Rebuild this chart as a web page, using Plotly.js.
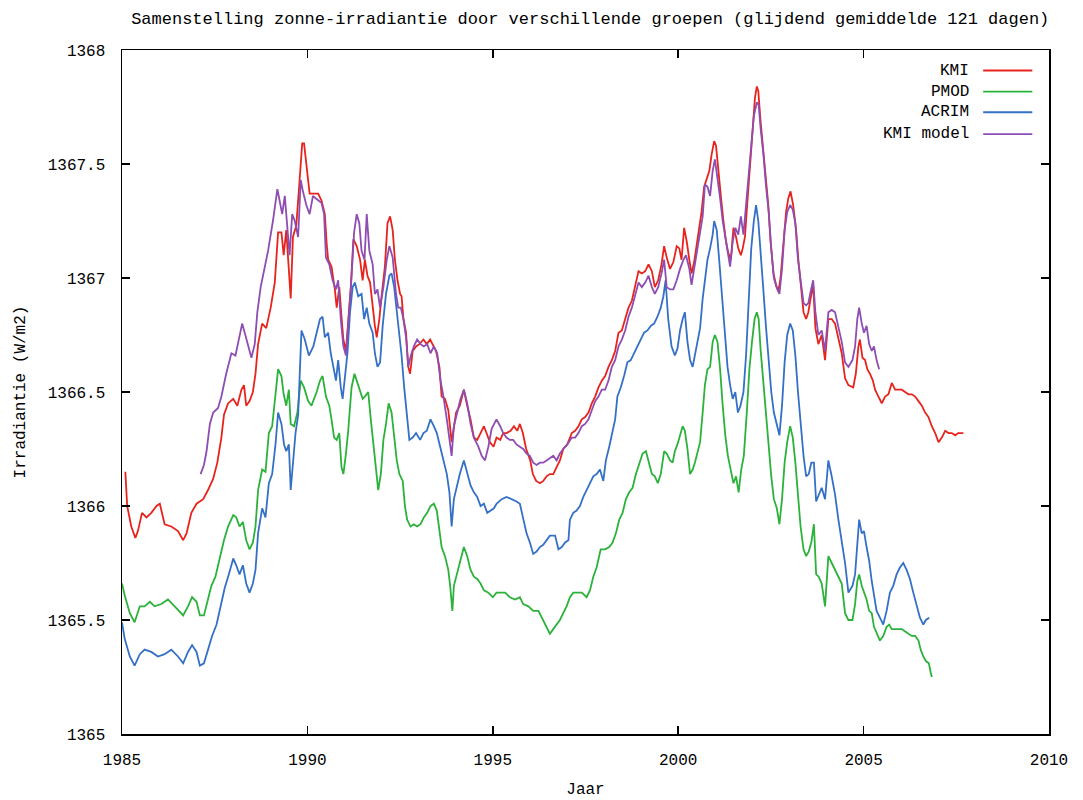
<!DOCTYPE html>
<html>
<head>
<meta charset="utf-8">
<script src="https://cdn.plot.ly/plotly-3.0.1.min.js"></script>
<style>
  html, body { margin: 0; padding: 0; background: #fff; }
  #chart { width: 1083px; height: 800px; }
</style>
</head>
<body>
<div id="chart"></div>
<script>
// ---------------- DATA ----------------
const seriesNames = ["KMI", "PMOD", "ACRIM", "KMI model"];
const xTickValues = [1985, 1990, 1995, 2000, 2005, 2010];
const yTickValues = [1365, 1365.5, 1366, 1366.5, 1367, 1367.5, 1368];

const kmiYears = [1985.09,1985.14,1985.25,1985.36,1985.43,1985.54,1985.66,1985.79,1985.93,1986.02,1986.15,1986.33,1986.51,1986.65,1986.74,1986.87,1987.01,1987.19,1987.32,1987.46,1987.57,1987.68,1987.75,1987.86,1988.00,1988.11,1988.22,1988.29,1988.35,1988.44,1988.53,1988.60,1988.67,1988.78,1988.89,1989.01,1989.12,1989.21,1989.30,1989.36,1989.43,1989.50,1989.55,1989.61,1989.70,1989.79,1989.86,1989.91,1989.97,1990.06,1990.20,1990.29,1990.38,1990.47,1990.52,1990.56,1990.65,1990.74,1990.79,1990.86,1990.92,1990.97,1991.04,1991.10,1991.17,1991.24,1991.33,1991.42,1991.49,1991.55,1991.62,1991.69,1991.76,1991.82,1991.87,1991.94,1992.00,1992.09,1992.16,1992.23,1992.30,1992.36,1992.43,1992.50,1992.54,1992.59,1992.66,1992.72,1992.77,1992.84,1992.93,1993.02,1993.13,1993.22,1993.31,1993.38,1993.47,1993.56,1993.62,1993.71,1993.80,1993.89,1993.94,1994.01,1994.11,1994.22,1994.31,1994.40,1994.49,1994.58,1994.67,1994.76,1994.83,1994.92,1995.02,1995.10,1995.20,1995.28,1995.37,1995.48,1995.57,1995.66,1995.73,1995.81,1995.90,1996.01,1996.08,1996.17,1996.27,1996.36,1996.45,1996.54,1996.63,1996.72,1996.81,1996.90,1997.01,1997.13,1997.22,1997.31,1997.40,1997.49,1997.58,1997.67,1997.76,1997.85,1997.94,1998.03,1998.12,1998.21,1998.30,1998.39,1998.48,1998.57,1998.66,1998.75,1998.84,1998.93,1999.02,1999.11,1999.20,1999.29,1999.37,1999.46,1999.55,1999.62,1999.69,1999.78,1999.87,1999.96,2000.03,2000.09,2000.16,2000.23,2000.30,2000.36,2000.43,2000.50,2000.57,2000.63,2000.70,2000.77,2000.84,2000.90,2000.97,2001.02,2001.08,2001.15,2001.22,2001.29,2001.35,2001.42,2001.49,2001.56,2001.62,2001.69,2001.74,2001.80,2001.86,2001.94,2002.01,2002.07,2002.12,2002.16,2002.22,2002.30,2002.37,2002.43,2002.49,2002.57,2002.64,2002.70,2002.76,2002.84,2002.91,2002.97,2003.03,2003.10,2003.18,2003.24,2003.30,2003.38,2003.45,2003.51,2003.57,2003.64,2003.70,2003.78,2003.87,2003.96,2004.05,2004.14,2004.23,2004.32,2004.41,2004.50,2004.59,2004.72,2004.79,2004.86,2004.90,2004.97,2005.04,2005.10,2005.17,2005.25,2005.31,2005.40,2005.49,2005.58,2005.67,2005.76,2005.85,2005.94,2006.03,2006.12,2006.21,2006.30,2006.39,2006.48,2006.57,2006.66,2006.75,2006.84,2006.93,2007.02,2007.11,2007.20,2007.29,2007.38,2007.47,2007.55,2007.69];
const kmiValues = [1366.15,1366.00,1365.91,1365.86,1365.89,1365.97,1365.95,1365.97,1366.00,1366.01,1365.92,1365.91,1365.89,1365.85,1365.88,1365.97,1366.01,1366.03,1366.07,1366.12,1366.19,1366.30,1366.40,1366.45,1366.47,1366.44,1366.51,1366.53,1366.44,1366.46,1366.50,1366.58,1366.71,1366.80,1366.78,1366.87,1366.98,1367.20,1367.20,1367.10,1367.21,1367.06,1366.91,1367.18,1367.23,1367.43,1367.59,1367.59,1367.51,1367.37,1367.37,1367.37,1367.34,1367.28,1367.15,1367.08,1367.05,1366.95,1366.87,1366.96,1366.83,1366.73,1366.68,1366.80,1366.96,1367.17,1367.14,1367.08,1366.99,1367.08,1367.01,1366.98,1366.87,1366.79,1366.74,1366.82,1366.92,1367.05,1367.24,1367.27,1367.21,1367.08,1366.99,1366.93,1366.92,1366.82,1366.76,1366.61,1366.58,1366.68,1366.70,1366.71,1366.73,1366.71,1366.73,1366.71,1366.68,1366.61,1366.48,1366.47,1366.42,1366.28,1366.33,1366.41,1366.44,1366.51,1366.44,1366.38,1366.30,1366.29,1366.32,1366.35,1366.32,1366.28,1366.26,1366.30,1366.29,1366.32,1366.32,1366.33,1366.35,1366.33,1366.36,1366.32,1366.25,1366.20,1366.14,1366.11,1366.10,1366.11,1366.13,1366.14,1366.14,1366.17,1366.20,1366.25,1366.27,1366.32,1366.33,1366.35,1366.38,1366.39,1366.41,1366.45,1366.48,1366.52,1366.55,1366.57,1366.61,1366.64,1366.68,1366.76,1366.77,1366.82,1366.87,1366.90,1366.96,1367.03,1367.02,1367.03,1367.06,1367.03,1366.96,1366.99,1367.06,1367.14,1367.09,1367.04,1367.07,1367.14,1367.13,1367.08,1367.22,1367.16,1367.08,1367.02,1367.07,1367.14,1367.22,1367.29,1367.40,1367.44,1367.47,1367.54,1367.60,1367.58,1367.46,1367.36,1367.25,1367.16,1367.11,1367.08,1367.22,1367.18,1367.13,1367.10,1367.13,1367.18,1367.32,1367.50,1367.63,1367.79,1367.84,1367.82,1367.69,1367.55,1367.41,1367.32,1367.16,1367.02,1366.97,1366.94,1367.00,1367.16,1367.29,1367.35,1367.38,1367.32,1367.21,1367.08,1366.97,1366.85,1366.82,1366.85,1366.91,1366.97,1366.78,1366.71,1366.75,1366.64,1366.82,1366.82,1366.80,1366.74,1366.67,1366.56,1366.53,1366.52,1366.58,1366.70,1366.73,1366.65,1366.64,1366.60,1366.58,1366.55,1366.51,1366.48,1366.45,1366.48,1366.49,1366.54,1366.51,1366.51,1366.51,1366.50,1366.49,1366.49,1366.48,1366.46,1366.44,1366.41,1366.39,1366.35,1366.32,1366.28,1366.30,1366.33,1366.32,1366.32,1366.31,1366.32,1366.32];

const pmodYears = [1985.00,1985.07,1985.21,1985.34,1985.48,1985.61,1985.75,1985.88,1986.06,1986.24,1986.42,1986.65,1986.78,1986.89,1987.01,1987.10,1987.21,1987.32,1987.41,1987.52,1987.63,1987.75,1987.86,1988.00,1988.08,1988.17,1988.26,1988.35,1988.44,1988.53,1988.60,1988.67,1988.78,1988.87,1988.96,1989.05,1989.14,1989.21,1989.30,1989.36,1989.43,1989.50,1989.55,1989.64,1989.73,1989.82,1989.91,1990.02,1990.11,1990.25,1990.34,1990.41,1990.50,1990.59,1990.65,1990.72,1990.79,1990.86,1990.92,1990.97,1991.04,1991.10,1991.19,1991.27,1991.33,1991.42,1991.49,1991.55,1991.64,1991.71,1991.78,1991.85,1991.91,1991.98,1992.05,1992.12,1992.19,1992.27,1992.34,1992.41,1992.48,1992.57,1992.63,1992.69,1992.78,1992.87,1992.96,1993.05,1993.14,1993.23,1993.32,1993.41,1993.49,1993.56,1993.62,1993.71,1993.80,1993.85,1993.91,1993.95,1994.03,1994.11,1994.22,1994.31,1994.40,1994.49,1994.58,1994.67,1994.76,1994.88,1995.00,1995.10,1995.20,1995.33,1995.46,1995.60,1995.73,1995.82,1995.96,1996.09,1996.23,1996.36,1996.47,1996.54,1996.63,1996.72,1996.81,1996.90,1996.99,1997.08,1997.17,1997.26,1997.40,1997.53,1997.62,1997.71,1997.80,1997.91,1998.03,1998.14,1998.23,1998.32,1998.41,1998.50,1998.59,1998.68,1998.77,1998.86,1998.95,1999.04,1999.13,1999.20,1999.29,1999.37,1999.45,1999.53,1999.62,1999.69,1999.78,1999.85,1999.91,1999.98,2000.05,2000.12,2000.18,2000.25,2000.32,2000.39,2000.45,2000.52,2000.59,2000.66,2000.72,2000.79,2000.86,2000.93,2000.99,2001.06,2001.13,2001.20,2001.27,2001.34,2001.42,2001.49,2001.56,2001.63,2001.70,2001.77,2001.85,2001.92,2001.99,2002.06,2002.12,2002.17,2002.22,2002.30,2002.37,2002.44,2002.51,2002.58,2002.66,2002.73,2002.80,2002.87,2002.94,2003.02,2003.09,2003.16,2003.23,2003.30,2003.38,2003.45,2003.52,2003.59,2003.66,2003.72,2003.79,2003.87,2003.96,2004.05,2004.14,2004.23,2004.32,2004.41,2004.50,2004.59,2004.70,2004.77,2004.83,2004.88,2004.95,2005.01,2005.08,2005.15,2005.22,2005.28,2005.35,2005.44,2005.53,2005.62,2005.69,2005.76,2005.85,2005.94,2006.03,2006.12,2006.21,2006.30,2006.39,2006.48,2006.54,2006.61,2006.68,2006.76,2006.81,2006.84];
const pmodValues = [1365.66,1365.61,1365.53,1365.49,1365.56,1365.56,1365.58,1365.56,1365.57,1365.59,1365.56,1365.52,1365.56,1365.60,1365.58,1365.52,1365.52,1365.59,1365.65,1365.69,1365.77,1365.85,1365.91,1365.96,1365.95,1365.91,1365.93,1365.85,1365.81,1365.84,1365.91,1366.07,1366.16,1366.15,1366.32,1366.35,1366.49,1366.60,1366.57,1366.49,1366.44,1366.51,1366.36,1366.35,1366.41,1366.55,1366.52,1366.46,1366.44,1366.50,1366.55,1366.57,1366.48,1366.44,1366.38,1366.30,1366.29,1366.32,1366.17,1366.14,1366.23,1366.33,1366.52,1366.58,1366.55,1366.51,1366.47,1366.48,1366.50,1366.38,1366.28,1366.16,1366.07,1366.14,1366.29,1366.36,1366.45,1366.41,1366.30,1366.20,1366.14,1366.11,1366.00,1365.94,1365.91,1365.92,1365.91,1365.92,1365.95,1365.97,1366.00,1366.01,1365.98,1365.88,1365.82,1365.78,1365.72,1365.65,1365.54,1365.65,1365.70,1365.76,1365.82,1365.78,1365.72,1365.69,1365.68,1365.66,1365.63,1365.62,1365.60,1365.62,1365.62,1365.62,1365.60,1365.59,1365.60,1365.57,1365.56,1365.54,1365.54,1365.50,1365.46,1365.44,1365.46,1365.48,1365.50,1365.53,1365.56,1365.60,1365.62,1365.62,1365.62,1365.60,1365.63,1365.69,1365.73,1365.81,1365.81,1365.82,1365.84,1365.88,1365.94,1365.97,1366.03,1366.06,1366.08,1366.14,1366.19,1366.23,1366.24,1366.20,1366.14,1366.13,1366.10,1366.14,1366.24,1366.23,1366.20,1366.19,1366.24,1366.27,1366.31,1366.35,1366.33,1366.25,1366.14,1366.16,1366.19,1366.24,1366.28,1366.41,1366.53,1366.60,1366.61,1366.72,1366.75,1366.72,1366.60,1366.44,1366.31,1366.22,1366.16,1366.10,1366.13,1366.06,1366.16,1366.22,1366.41,1366.60,1366.72,1366.82,1366.85,1366.82,1366.69,1366.53,1366.38,1366.25,1366.13,1366.03,1365.99,1365.92,1366.03,1366.19,1366.28,1366.35,1366.30,1366.19,1366.03,1365.91,1365.81,1365.78,1365.80,1365.84,1365.92,1365.70,1365.69,1365.66,1365.56,1365.78,1365.75,1365.72,1365.69,1365.66,1365.53,1365.50,1365.50,1365.57,1365.67,1365.70,1365.65,1365.62,1365.59,1365.54,1365.53,1365.47,1365.44,1365.41,1365.43,1365.47,1365.48,1365.46,1365.46,1365.46,1365.46,1365.45,1365.44,1365.43,1365.43,1365.41,1365.37,1365.34,1365.32,1365.31,1365.27,1365.25];

const acrimYears = [1985.00,1985.07,1985.21,1985.34,1985.48,1985.61,1985.79,1985.97,1986.15,1986.33,1986.51,1986.65,1986.78,1986.89,1987.01,1987.10,1987.21,1987.32,1987.43,1987.55,1987.66,1987.77,1987.88,1988.00,1988.08,1988.17,1988.26,1988.35,1988.44,1988.53,1988.60,1988.67,1988.78,1988.87,1988.96,1989.05,1989.14,1989.21,1989.30,1989.37,1989.43,1989.50,1989.55,1989.61,1989.68,1989.75,1989.84,1989.93,1990.04,1990.16,1990.25,1990.34,1990.41,1990.47,1990.56,1990.63,1990.70,1990.77,1990.83,1990.90,1990.95,1991.01,1991.08,1991.15,1991.22,1991.28,1991.37,1991.46,1991.53,1991.60,1991.67,1991.76,1991.82,1991.89,1991.96,1992.03,1992.12,1992.21,1992.27,1992.34,1992.41,1992.48,1992.54,1992.61,1992.68,1992.75,1992.84,1992.93,1993.04,1993.13,1993.22,1993.32,1993.41,1993.49,1993.58,1993.67,1993.76,1993.83,1993.89,1993.95,1994.03,1994.11,1994.22,1994.31,1994.40,1994.49,1994.58,1994.67,1994.76,1994.85,1994.94,1995.03,1995.10,1995.24,1995.37,1995.51,1995.64,1995.73,1995.82,1995.91,1996.00,1996.09,1996.18,1996.27,1996.36,1996.45,1996.54,1996.68,1996.77,1996.86,1996.95,1997.04,1997.08,1997.17,1997.26,1997.35,1997.44,1997.53,1997.62,1997.71,1997.80,1997.89,1997.98,1998.05,1998.14,1998.23,1998.30,1998.36,1998.45,1998.54,1998.63,1998.72,1998.81,1998.90,1998.99,1999.08,1999.17,1999.26,1999.35,1999.44,1999.53,1999.60,1999.66,1999.73,1999.82,1999.91,1999.98,2000.05,2000.12,2000.18,2000.25,2000.32,2000.39,2000.45,2000.52,2000.59,2000.66,2000.72,2000.79,2000.86,2000.93,2000.97,2001.04,2001.11,2001.18,2001.25,2001.33,2001.40,2001.47,2001.54,2001.61,2001.68,2001.76,2001.83,2001.90,2001.97,2002.04,2002.10,2002.16,2002.22,2002.30,2002.37,2002.44,2002.51,2002.58,2002.66,2002.73,2002.80,2002.87,2002.94,2003.02,2003.09,2003.16,2003.23,2003.30,2003.38,2003.45,2003.52,2003.59,2003.66,2003.72,2003.79,2003.87,2003.96,2004.05,2004.14,2004.23,2004.32,2004.41,2004.50,2004.59,2004.70,2004.77,2004.83,2004.88,2004.95,2005.01,2005.08,2005.15,2005.22,2005.28,2005.35,2005.44,2005.53,2005.62,2005.71,2005.80,2005.89,2005.98,2006.07,2006.16,2006.25,2006.34,2006.43,2006.52,2006.61,2006.68,2006.77];
const acrimValues = [1365.49,1365.42,1365.34,1365.30,1365.35,1365.37,1365.36,1365.34,1365.35,1365.37,1365.34,1365.31,1365.36,1365.39,1365.36,1365.30,1365.31,1365.37,1365.43,1365.48,1365.56,1365.64,1365.70,1365.77,1365.74,1365.70,1365.74,1365.66,1365.62,1365.66,1365.72,1365.88,1365.99,1365.95,1366.10,1366.14,1366.27,1366.41,1366.36,1366.27,1366.24,1366.27,1366.07,1366.19,1366.32,1366.40,1366.77,1366.73,1366.66,1366.70,1366.76,1366.82,1366.83,1366.74,1366.76,1366.67,1366.61,1366.55,1366.64,1366.52,1366.47,1366.55,1366.67,1366.85,1366.96,1366.98,1366.92,1366.93,1366.82,1366.87,1366.80,1366.76,1366.67,1366.61,1366.63,1366.79,1366.93,1367.01,1367.02,1366.96,1366.85,1366.76,1366.66,1366.52,1366.41,1366.29,1366.30,1366.32,1366.29,1366.32,1366.33,1366.38,1366.35,1366.32,1366.26,1366.20,1366.14,1366.06,1365.91,1366.03,1366.09,1366.14,1366.20,1366.14,1366.09,1366.06,1366.04,1366.00,1366.01,1365.97,1365.98,1365.99,1366.01,1366.03,1366.04,1366.03,1366.02,1366.01,1365.94,1365.88,1365.84,1365.79,1365.80,1365.82,1365.83,1365.85,1365.87,1365.87,1365.81,1365.82,1365.84,1365.85,1365.94,1365.97,1365.98,1366.00,1366.04,1366.07,1366.10,1366.13,1366.14,1366.16,1366.11,1366.20,1366.26,1366.32,1366.38,1366.48,1366.52,1366.57,1366.63,1366.64,1366.67,1366.70,1366.73,1366.76,1366.77,1366.79,1366.80,1366.83,1366.87,1366.92,1366.99,1366.82,1366.70,1366.66,1366.69,1366.77,1366.82,1366.85,1366.72,1366.64,1366.61,1366.66,1366.71,1366.78,1366.91,1367.00,1367.08,1367.13,1367.19,1367.25,1367.21,1367.07,1366.91,1366.75,1366.61,1366.53,1366.47,1366.50,1366.41,1366.44,1366.50,1366.66,1366.91,1367.13,1367.25,1367.32,1367.25,1367.10,1366.94,1366.78,1366.63,1366.50,1366.41,1366.35,1366.31,1366.44,1366.63,1366.75,1366.80,1366.77,1366.66,1366.50,1366.35,1366.22,1366.13,1366.14,1366.19,1366.19,1366.02,1366.05,1366.08,1366.03,1366.20,1366.13,1366.05,1365.94,1365.84,1365.75,1365.62,1365.65,1365.70,1365.85,1365.94,1365.88,1365.89,1365.82,1365.76,1365.67,1365.60,1365.54,1365.51,1365.48,1365.54,1365.62,1365.65,1365.70,1365.73,1365.75,1365.72,1365.68,1365.62,1365.56,1365.51,1365.48,1365.50,1365.51];

const modelYears = [1987.12,1987.21,1987.28,1987.37,1987.46,1987.59,1987.68,1987.81,1987.95,1988.06,1988.15,1988.24,1988.31,1988.40,1988.49,1988.58,1988.65,1988.74,1988.83,1988.94,1989.07,1989.19,1989.25,1989.32,1989.39,1989.46,1989.52,1989.59,1989.66,1989.75,1989.82,1989.88,1989.97,1990.06,1990.15,1990.22,1990.29,1990.38,1990.45,1990.50,1990.59,1990.68,1990.77,1990.83,1990.90,1990.97,1991.04,1991.10,1991.17,1991.26,1991.33,1991.40,1991.46,1991.54,1991.60,1991.67,1991.76,1991.82,1991.89,1991.96,1992.05,1992.14,1992.21,1992.30,1992.39,1992.45,1992.52,1992.59,1992.66,1992.72,1992.79,1992.87,1992.96,1993.05,1993.14,1993.23,1993.32,1993.41,1993.50,1993.59,1993.67,1993.76,1993.85,1993.89,1993.95,1994.04,1994.13,1994.22,1994.31,1994.40,1994.49,1994.61,1994.70,1994.79,1994.88,1994.97,1995.10,1995.20,1995.28,1995.37,1995.46,1995.55,1995.64,1995.73,1995.82,1995.91,1996.00,1996.09,1996.18,1996.27,1996.36,1996.45,1996.54,1996.63,1996.72,1996.81,1996.90,1997.01,1997.13,1997.22,1997.31,1997.40,1997.49,1997.58,1997.67,1997.76,1997.85,1997.94,1998.03,1998.12,1998.21,1998.30,1998.39,1998.48,1998.57,1998.66,1998.75,1998.84,1998.93,1999.02,1999.11,1999.20,1999.29,1999.37,1999.46,1999.55,1999.62,1999.69,1999.78,1999.87,1999.96,2000.05,2000.14,2000.21,2000.30,2000.36,2000.43,2000.50,2000.59,2000.66,2000.72,2000.79,2000.86,2000.93,2000.99,2001.06,2001.13,2001.20,2001.26,2001.33,2001.40,2001.47,2001.54,2001.62,2001.69,2001.76,2001.83,2001.90,2001.97,2002.04,2002.12,2002.17,2002.22,2002.30,2002.37,2002.44,2002.51,2002.58,2002.65,2002.73,2002.80,2002.87,2002.94,2003.02,2003.09,2003.16,2003.23,2003.30,2003.38,2003.45,2003.51,2003.57,2003.64,2003.70,2003.78,2003.87,2003.96,2004.05,2004.14,2004.23,2004.32,2004.41,2004.50,2004.59,2004.70,2004.77,2004.83,2004.88,2004.95,2005.01,2005.08,2005.15,2005.22,2005.28,2005.35,2005.42];
const modelValues = [1366.14,1366.18,1366.24,1366.36,1366.41,1366.43,1366.48,1366.58,1366.67,1366.66,1366.73,1366.80,1366.76,1366.70,1366.65,1366.71,1366.85,1366.96,1367.03,1367.12,1367.25,1367.39,1367.34,1367.28,1367.36,1367.21,1367.10,1367.28,1367.25,1367.18,1367.43,1367.38,1367.32,1367.28,1367.36,1367.35,1367.34,1367.33,1367.28,1367.09,1367.06,1366.99,1366.95,1366.99,1366.82,1366.70,1366.66,1366.79,1366.95,1367.20,1367.28,1367.24,1367.12,1367.08,1367.28,1367.12,1367.06,1366.93,1366.95,1366.87,1366.96,1367.08,1367.14,1367.09,1366.93,1366.87,1366.87,1366.82,1366.74,1366.61,1366.66,1366.70,1366.73,1366.71,1366.70,1366.71,1366.67,1366.70,1366.67,1366.55,1366.48,1366.38,1366.26,1366.22,1366.35,1366.41,1366.47,1366.51,1366.45,1366.36,1366.30,1366.26,1366.22,1366.20,1366.26,1366.34,1366.38,1366.35,1366.32,1366.30,1366.29,1366.29,1366.27,1366.26,1366.25,1366.23,1366.22,1366.19,1366.18,1366.19,1366.19,1366.20,1366.21,1366.22,1366.20,1366.23,1366.25,1366.27,1366.30,1366.30,1366.32,1366.35,1366.36,1366.38,1366.42,1366.46,1366.48,1366.51,1366.51,1366.55,1366.61,1366.64,1366.70,1366.73,1366.77,1366.83,1366.87,1366.93,1366.98,1366.96,1366.98,1367.01,1366.96,1366.93,1366.96,1367.02,1367.08,1366.96,1366.95,1366.95,1366.99,1367.04,1367.08,1367.10,1367.04,1366.97,1367.04,1367.11,1367.19,1367.27,1367.41,1367.40,1367.36,1367.47,1367.52,1367.44,1367.35,1367.25,1367.19,1367.10,1367.05,1367.16,1367.22,1367.19,1367.27,1367.19,1367.32,1367.46,1367.57,1367.71,1367.77,1367.76,1367.66,1367.54,1367.40,1367.29,1367.13,1367.00,1366.96,1366.93,1367.04,1367.21,1367.29,1367.32,1367.30,1367.24,1367.08,1367.00,1366.89,1366.88,1366.89,1366.94,1366.99,1366.85,1366.75,1366.77,1366.68,1366.85,1366.86,1366.85,1366.78,1366.72,1366.63,1366.61,1366.64,1366.70,1366.82,1366.87,1366.80,1366.76,1366.79,1366.71,1366.68,1366.70,1366.64,1366.60];

const seriesColors = ["#e8231c", "#2bb23a", "#3470c6", "#8e4db2"];

// ---------------- CHART ----------------
const FONT = "Liberation Mono, DejaVu Sans Mono, monospace";
const xs = [kmiYears, pmodYears, acrimYears, modelYears];
const ys = [kmiValues, pmodValues, acrimValues, modelValues];

const traces = seriesNames.map((name, i) => ({
  type: "scatter",
  mode: "lines",
  name: name,
  x: xs[i],
  y: ys[i],
  line: { color: seriesColors[i], width: 1.8 },
  showlegend: false,
  hoverinfo: "x+y+name"
}));

// gnuplot-style key: text right-aligned, sample line to its right
const keyRowsY = [0.970, 0.939, 0.909, 0.877];
const annotations = seriesNames.map((name, i) => ({
  xref: "paper", yref: "paper",
  x: 0.916, y: keyRowsY[i],
  xanchor: "right", yanchor: "middle",
  text: name, showarrow: false,
  font: { family: FONT, size: 16, color: "#000" }
}));
const shapes = seriesNames.map((name, i) => ({
  type: "line", xref: "paper", yref: "paper",
  x0: 0.929, x1: 0.982, y0: keyRowsY[i], y1: keyRowsY[i],
  line: { color: seriesColors[i], width: 1.8 }
}));

const axisCommon = {
  showgrid: false,
  zeroline: false,
  showline: true,
  linecolor: "#000",
  linewidth: 1.5,
  mirror: "ticks",
  ticks: "inside",
  ticklen: 8,
  tickwidth: 1.5,
  tickcolor: "#000",
  tickfont: { family: FONT, size: 16, color: "#000" }
};

const layout = {
  width: 1083,
  height: 800,
  margin: { l: 122, r: 34, t: 50, b: 66 },
  paper_bgcolor: "#fff",
  plot_bgcolor: "#fff",
  title: {
    text: "Samenstelling zonne-irradiantie door verschillende groepen (glijdend gemiddelde 121 dagen)",
    font: { family: FONT, size: 17, color: "#000" },
    x: 0.545, xanchor: "center",
    y: 0.977, yanchor: "middle"
  },
  xaxis: Object.assign({}, axisCommon, {
    range: [1985, 2010],
    tickvals: xTickValues,
    ticktext: xTickValues.map(String),
    ticklabelstandoff: 10,
    title: { text: "Jaar", font: { family: FONT, size: 16, color: "#000" }, standoff: 14 }
  }),
  yaxis: Object.assign({}, axisCommon, {
    range: [1365, 1368],
    tickvals: yTickValues,
    ticktext: yTickValues.map(String),
    ticklabelstandoff: 12,
    title: { text: "Irradiantie (W/m2)", font: { family: FONT, size: 16, color: "#000" }, standoff: 18 }
  }),
  annotations: annotations,
  shapes: shapes
};

Plotly.newPlot("chart", traces, layout, { displayModeBar: false, staticPlot: true });
</script>
</body>
</html>
